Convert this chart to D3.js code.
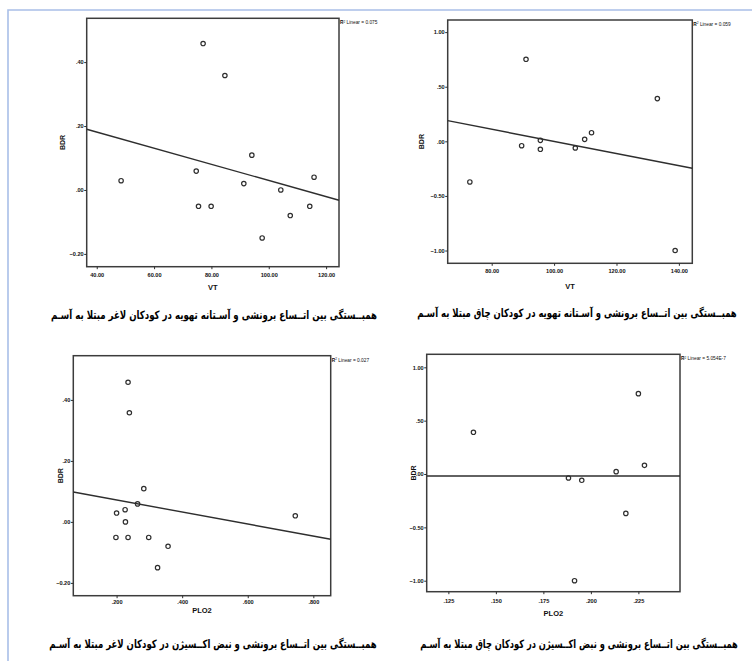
<!DOCTYPE html>
<html><head><meta charset="utf-8">
<script src="https://cdn.jsdelivr.net/npm/d3@7"></script>
<style>body{margin:0;background:#fff}svg{display:block}</style>
</head><body>
<svg id="c" width="752" height="661"></svg>
<script>
// ---------- data ----------
// lean children (13 cases): BDR shared by VT and PLO2 panels
const bdrLean  = [0.458, 0.358, 0.109, 0.059, 0.029, 0.040, 0.000, -0.051, -0.051, -0.051, -0.080, -0.150, 0.020];
const vtLean   = [77.1, 84.7, 94.1, 74.7, 48.5, 115.8, 104.2, 75.5, 79.9, 114.3, 107.5, 97.7, 91.3];
const plo2Lean = [0.235, 0.239, 0.283, 0.264, 0.200, 0.226, 0.227, 0.198, 0.235, 0.298, 0.357, 0.325, 0.745];
// obese children
const vtObese    = [91.0, 133.1, 73.0, 89.6, 95.6, 95.6, 106.8, 109.8, 112.0, 138.8];
const bdrObeseVT = [0.751, 0.391, -0.372, -0.040, 0.009, -0.073, -0.061, 0.018, 0.079, -1.000];
const plo2Obese    = [0.1382, 0.2250, 0.2282, 0.2133, 0.1882, 0.1952, 0.2184, 0.1914];
const bdrObesePLO2 = [0.391, 0.753, 0.081, 0.022, -0.0375, -0.059, -0.369, -1.000];
// fitted lines (x, y) at both ends
const fitLeanVT    = [[36.5, 0.190], [124.5, -0.032]];
const fitObeseVT   = [[65.9, 0.189], [144.3, -0.247]];
const fitLeanPLO2  = [[0.068, 0.098], [0.853, -0.057]];
const fitObesePLO2 = [[0.1136, -0.019], [0.2469, -0.019]];
const r2Values = ["0.075", "0.059", "0.027", "5.054E-7"];
// ticks
const xTicksLeanVT = [40, 60, 80, 100, 120];
const xTicksObeseVT = [80, 100, 120, 140];
const xTicksLeanPLO2 = [0.2, 0.4, 0.6, 0.8];
const xTicksObesePLO2 = [0.125, 0.150, 0.175, 0.200, 0.225];
const yTicksLean = [-0.2, 0, 0.2, 0.4];
const yTicksObese = [-1, -0.5, 0, 0.5, 1];
const yTitle = "BDR";
const xTitles = ["VT", "VT", "PLO2", "PLO2"];
const captions = [
  "همبــستگی بین اتــساع برونشی و آسـتانه تهویه در کودکان لاغر مبتلا به آسـم",
  "همبــستگی بین اتــساع برونشی و آسـتانه تهویه در کودکان چاق مبتلا به آسـم",
  "همبــستگی بین اتــساع برونشی و نبض اکــسیژن در کودکان لاغر مبتلا به آسـم",
  "همبــستگی بین اتــساع برونشی و نبض اکــسیژن در کودکان چاق مبتلا به آسـم"
];

// ---------- layout ----------
const f2 = v => d3.format(".2f")(v).replace(/^(-?)0\./, "$1.");
const f3 = v => d3.format(".3f")(v).replace(/^(-?)0\./, "$1.");
const panels = [
  {xs: vtLean, ys: bdrLean, fit: fitLeanVT, xd: [36.5, 124.5], yd: [-0.24, 0.537],
   xt: xTicksLeanVT, yt: yTicksLean, xf: f2, yf: f2,
   box: {l: 86.7, r: 339, t: 18.3, b: 266.7}, ytOff: 24, xlOff: 8, xtOff: 21,
   cap: {cx: 214, w: 326, y: 319}},
  {xs: vtObese, ys: bdrObeseVT, fit: fitObeseVT, xd: [65.9, 144.3], yd: [-1.117, 1.111],
   xt: xTicksObeseVT, yt: yTicksObese, xf: f2, yf: f2,
   box: {l: 447.7, r: 692.3, t: 20, b: 263.3}, ytOff: 26, xlOff: 7.5, xtOff: 23,
   cap: {cx: 577, w: 320, y: 317}},
  {xs: plo2Lean, ys: bdrLean, fit: fitLeanPLO2, xd: [0.068, 0.853], yd: [-0.242, 0.545],
   xt: xTicksLeanPLO2, yt: yTicksLean, xf: f3, yf: f2,
   box: {l: 73.3, r: 330.7, t: 355.7, b: 595.7}, ytOff: 13, xlOff: 6.5, xtOff: 15,
   cap: {cx: 213, w: 328, y: 648}},
  {xs: plo2Obese, ys: bdrObesePLO2, fit: fitObesePLO2, xd: [0.1136, 0.2469], yd: [-1.103, 1.122],
   xt: xTicksObesePLO2, yt: yTicksObese, xf: f3, yf: f2,
   box: {l: 426.7, r: 680, t: 354.3, b: 591.7}, ytOff: 13, xlOff: 9, xtOff: 22,
   cap: {cx: 579, w: 318, y: 648}}
];

const svg = d3.select("#c");
svg.append("rect").attr("width", 752).attr("height", 661).attr("fill", "#fff");
// page frame (blue)
svg.append("path").attr("d", "M8,661 L8,10 L752,10").attr("fill", "none")
  .attr("stroke", "#a9bfe8").attr("stroke-width", 1.6);

const ink = "#2e2e2e";
panels.forEach((p, i) => {
  const x = d3.scaleLinear().domain(p.xd).range([p.box.l, p.box.r]);
  const y = d3.scaleLinear().domain(p.yd).range([p.box.b, p.box.t]);
  const g = svg.append("g");
  g.append("rect").attr("x", p.box.l).attr("y", p.box.t)
    .attr("width", p.box.r - p.box.l).attr("height", p.box.b - p.box.t)
    .attr("fill", "#fff").attr("stroke", "#3c3c3c").attr("stroke-width", 1.5);
  // axes
  const ax = g.append("g").attr("transform", `translate(0,${p.box.b})`)
    .call(d3.axisBottom(x).tickValues(p.xt).tickFormat(p.xf).tickSize(2.5).tickPadding(1.5));
  const ay = g.append("g").attr("transform", `translate(${p.box.l},0)`)
    .call(d3.axisLeft(y).tickValues(p.yt).tickFormat(p.yf).tickSize(2.5).tickPadding(0.5));
  [ax, ay].forEach(a => {
    a.select(".domain").remove();
    a.selectAll("line").attr("stroke", ink).attr("stroke-width", 1);
    a.selectAll("text").attr("fill", "#111").attr("font-family", "Liberation Sans, Arial, sans-serif")
      .attr("font-size", 5.6).attr("font-weight", "bold");
  });
  ax.selectAll("text").attr("y", p.xlOff - 2);
  // fit line
  g.append("path").datum(p.fit)
    .attr("d", d3.line().x(d => x(d[0])).y(d => y(d[1])))
    .attr("fill", "none").attr("stroke", ink).attr("stroke-width", 1.4);
  // points
  g.selectAll("circle.pt").data(p.xs.map((v, k) => [v, p.ys[k]])).enter()
    .append("circle").attr("class", "pt")
    .attr("cx", d => x(d[0])).attr("cy", d => y(d[1])).attr("r", 2.2)
    .attr("fill", "none").attr("stroke", ink).attr("stroke-width", 1.2);
  // titles
  g.append("text").attr("transform", `translate(${p.box.l - p.ytOff},${(p.box.t + p.box.b) / 2}) rotate(-90)`)
    .attr("text-anchor", "middle").attr("dy", "0.35em")
    .attr("font-family", "Liberation Sans, Arial, sans-serif").attr("font-weight", "bold")
    .attr("font-size", 7).attr("fill", "#111").text(yTitle);
  g.append("text").attr("x", (p.box.l + p.box.r) / 2).attr("y", p.box.b + p.xtOff).attr("dy", "0.35em")
    .attr("text-anchor", "middle")
    .attr("font-family", "Liberation Sans, Arial, sans-serif").attr("font-weight", "bold")
    .attr("font-size", 7.5).attr("fill", "#111").text(xTitles[i]);
  // R2 label
  const r2 = g.append("text").attr("x", p.box.r + 1).attr("y", p.box.t + 6)
    .attr("font-family", "Liberation Sans, Arial, sans-serif").attr("font-size", 4.8).attr("fill", "#111");
  r2.append("tspan").attr("font-weight", "bold").text("R");
  r2.append("tspan").attr("font-size", 3.2).attr("dy", -1.8).text("2");
  r2.append("tspan").attr("dy", 1.8).text(" Linear = " + r2Values[i]);
  // caption: bold, horizontally condensed to the measured width
  const cg = svg.append("g");
  const cap = cg.append("text").attr("x", 0).attr("y", 0)
    .attr("text-anchor", "middle").attr("direction", "rtl")
    .attr("font-family", "DejaVu Sans, Noto Sans, sans-serif").attr("font-weight", "bold")
    .attr("font-size", 11.5).attr("fill", "#000").text(captions[i]);
  const w = cap.node().getComputedTextLength();
  const sx = w > 0 ? p.cap.w / w : 1;
  cg.attr("transform", `translate(${p.cap.cx},${p.cap.y}) scale(${sx},1)`);
});
</script>
</body></html>
